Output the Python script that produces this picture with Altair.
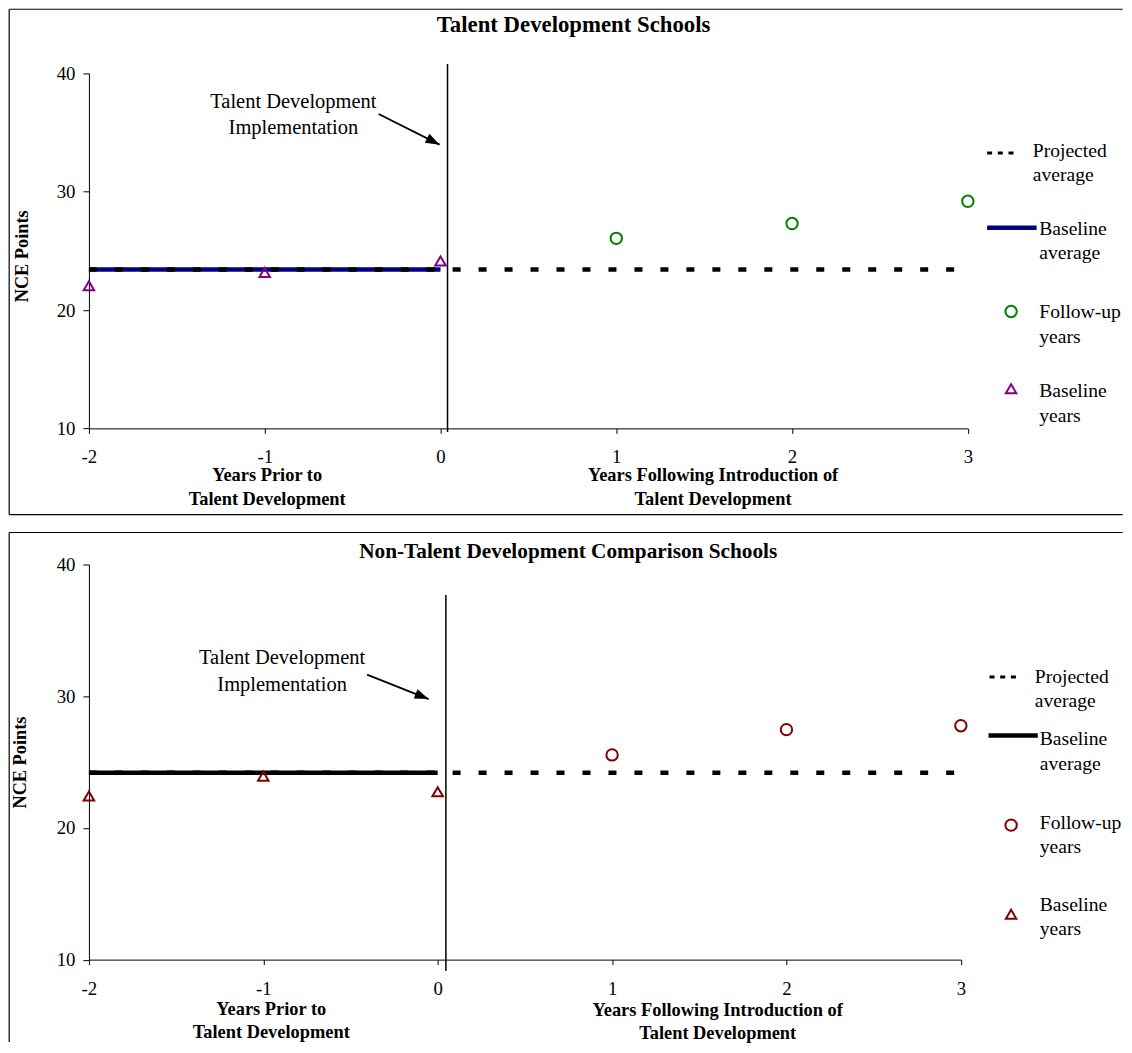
import altair as alt
import pandas as pd

FONT = "Liberation Serif"

# ---------------- data ----------------
baseline_years = [-2, -1, 0]
followup_years = [1, 2, 3]

td_baseline_scores = [22.05, 23.17, 24.14]
td_followup_scores = [26.06, 27.31, 29.19]
td_baseline_average = 23.42

cmp_baseline_scores = [22.42, 23.93, 22.74]
cmp_followup_scores = [25.54, 27.46, 27.76]
cmp_baseline_average = 24.19

x_ticks = [-2, -1, 0, 1, 2, 3]
y_ticks = [10, 20, 30, 40]

panel_titles = ["Talent Development Schools", "Non-Talent Development Comparison Schools"]
y_title = "NCE Points"
x_title_left = "Years Prior to\nTalent Development"
x_title_right = "Years Following Introduction of\nTalent Development"
annotation_text = "Talent Development\nImplementation"
legend_labels = ["Projected\naverage", "Baseline\naverage", "Follow-up\nyears", "Baseline\nyears"]

# implementation marker line: x, top, bottom (data units)
td_impl = [0.04, 40.79, 9.69]
cmp_impl = [0.047, 37.69, 9.14]
# annotation anchor (x, y) and arrow (x0, y0, x1, y1) in data units
td_note = [-0.837, 37.11]
td_arrow = [-0.352, 36.57, -0.005, 33.98]
cmp_note = [-0.892, 32.44]
cmp_arrow = [-0.405, 31.64, -0.052, 29.78]

ARROW_PATH = "M0,0 L-2,-0.72 L-2,0.72 Z"
TRI_SIZE = 110
CIRC_SIZE = 130


def vrule(x, y1, y2, sw=1.2):
    return alt.Chart().mark_rule(color="black", strokeWidth=sw).encode(
        x=alt.value(x), y=alt.value(y1), y2=alt.value(y2))


def hrule(x1, x2, y, sw=1.2):
    return alt.Chart().mark_rule(color="black", strokeWidth=sw).encode(
        x=alt.value(x1), x2=alt.value(x2), y=alt.value(y))


def make_panel(title, base_scores, follow_scores, avg, impl, note, arrow, s):
    xs = alt.Scale(domain=[-2, 3], nice=False, zero=False)
    ys = alt.Scale(domain=[10, 40], nice=False, zero=False)
    x_axis = alt.Axis(values=x_ticks, title=None, grid=False, labelFont=FONT,
                      labelFontSize=18.8, labelColor="black", tickColor="black",
                      domainColor="black", tickSize=5, labelPadding=s["xlabpad"],
                      labelExpr="'' + datum.value", labelFlush=False, labelOverlap=False)
    y_axis = alt.Axis(values=y_ticks, title=None, grid=False, labelFont=FONT,
                      labelFontSize=18.8, labelColor="black", tickColor="black",
                      domainColor="black", tickSize=6, labelPadding=8,
                      labelFlush=False, labelOverlap=False)
    X = alt.X("x:Q", scale=xs, axis=x_axis)
    Y = alt.Y("y:Q", scale=ys, axis=y_axis)

    layers = []
    # outer frame edges (right edge lies beyond the picture)
    fx1, fx2, fy1, fy2, draw_bottom = s["frame"]
    layers.append(hrule(fx1, fx2, fy1))
    layers.append(vrule(fx1, fy1, fy2))
    if draw_bottom:
        layers.append(hrule(fx1, fx2, fy2))

    # baseline average line
    base_df = pd.DataFrame({"x": [min(baseline_years), max(baseline_years)], "y": [avg, avg]})
    layers.append(alt.Chart(base_df).mark_line(color=s["avg_color"], strokeWidth=4.5)
                  .encode(x=X, y=Y))
    # projected average (dashed)
    proj_df = pd.DataFrame({"x": [min(baseline_years), max(followup_years)], "y": [avg, avg]})
    layers.append(alt.Chart(proj_df).mark_line(color="black", strokeWidth=4.5,
                                               strokeDash=[8, 18]).encode(x=X, y=Y))
    # implementation line
    impl_df = pd.DataFrame({"x": [impl[0]], "y": [impl[1]], "y2": [impl[2]]})
    layers.append(alt.Chart(impl_df).mark_rule(color="black", strokeWidth=1.5)
                  .encode(x=X, y=Y, y2="y2:Q"))
    # baseline points
    bp = pd.DataFrame({"x": baseline_years, "y": base_scores})
    layers.append(alt.Chart(bp).mark_point(shape="triangle-up", filled=False, size=TRI_SIZE,
                                           strokeWidth=2, color=s["base_color"], opacity=1)
                  .encode(x=X, y=Y))
    # follow-up points
    fp = pd.DataFrame({"x": followup_years, "y": follow_scores})
    layers.append(alt.Chart(fp).mark_point(shape="circle", filled=False, size=CIRC_SIZE,
                                           strokeWidth=2, color=s["follow_color"], opacity=1)
                  .encode(x=X, y=Y))
    # annotation arrow
    ar = pd.DataFrame({"x": [arrow[0]], "y": [arrow[1]], "x2": [arrow[2]], "y2": [arrow[3]]})
    layers.append(alt.Chart(ar).mark_rule(color="black", strokeWidth=1.8)
                  .encode(x=X, y=Y, x2="x2:Q", y2="y2:Q"))
    tip = pd.DataFrame({"x": [arrow[2]], "y": [arrow[3]]})
    layers.append(alt.Chart(tip).mark_point(shape=ARROW_PATH, filled=True, size=196,
                                            angle=s["arrow_angle"], color="black",
                                            opacity=1, strokeWidth=0)
                  .encode(x=X, y=Y))
    nt = pd.DataFrame({"x": [note[0]], "y": [note[1]], "t": [annotation_text]})
    layers.append(alt.Chart(nt).mark_text(font=FONT, fontSize=20.5, align="center",
                                          baseline="alphabetic", lineBreak="\n",
                                          lineHeight=26.5, color="black")
                  .encode(x=X, y=Y, text="t:N"))

    # panel title
    tx, ty, tsize = s["title"]
    layers.append(alt.Chart().mark_text(font=FONT, fontSize=tsize, fontWeight="bold",
                                        align="center", baseline="alphabetic", color="black")
                  .encode(x=alt.value(tx), y=alt.value(ty), text=alt.value(title)))
    # y axis title
    nx, ny = s["ytitle"]
    layers.append(alt.Chart().mark_text(font=FONT, fontSize=18.3, fontWeight="bold",
                                        align="center", baseline="middle", angle=270,
                                        color="black")
                  .encode(x=alt.value(nx), y=alt.value(ny), text=alt.value(y_title)))
    # x axis titles
    for (ax, ay), txt in zip(s["xtitles"], [x_title_left, x_title_right]):
        layers.append(alt.Chart().mark_text(font=FONT, fontSize=18.4, fontWeight="bold",
                                            align="center", baseline="alphabetic",
                                            lineBreak="\n", lineHeight=s["xlh"],
                                            color="black")
                      .encode(x=alt.value(ax), y=alt.value(ay), text=alt.value(txt)))

    # legend
    d1, d2, dy = s["leg_dash"]
    layers.append(alt.Chart().mark_rule(color="black", strokeWidth=3, strokeDash=[5, 5.7])
                  .encode(x=alt.value(d1), x2=alt.value(d2), y=alt.value(dy)))
    l1, l2, ly = s["leg_line"]
    layers.append(alt.Chart().mark_rule(color=s["avg_color"], strokeWidth=4.5)
                  .encode(x=alt.value(l1), x2=alt.value(l2), y=alt.value(ly)))
    cx, cy = s["leg_circle"]
    layers.append(alt.Chart().mark_point(shape="circle", filled=False, size=CIRC_SIZE,
                                         strokeWidth=2, color=s["follow_color"], opacity=1)
                  .encode(x=alt.value(cx), y=alt.value(cy)))
    px, py = s["leg_tri"]
    layers.append(alt.Chart().mark_point(shape="triangle-up", filled=False, size=TRI_SIZE,
                                         strokeWidth=2, color=s["base_color"], opacity=1)
                  .encode(x=alt.value(px), y=alt.value(py)))
    for (lx, ly2), lab in zip(s["leg_text"], legend_labels):
        layers.append(alt.Chart().mark_text(font=FONT, fontSize=19.6, align="left",
                                            baseline="alphabetic", lineBreak="\n",
                                            lineHeight=24.3, color="black")
                      .encode(x=alt.value(lx), y=alt.value(ly2), text=alt.value(lab)))

    return alt.layer(*layers).properties(width=s["W"], height=s["H"])


top_style = {
    "W": 879.7, "H": 355.3,
    "frame": (-79.8, 1034.7, -64.2, 441.6, True),
    "title": (485.1, -41, 22.8),
    "ytitle": (-65.8, 183.1),
    "xtitles": [(178.4, 408.3), (624.7, 408.3)],
    "xlh": 23.5,
    "xlabpad": 14,
    "avg_color": "#000080", "base_color": "#800080", "follow_color": "#008000",
    "arrow_angle": 27,
    "leg_dash": (899, 925.7, 79.6),
    "leg_line": (899, 948.5, 154.6),
    "leg_circle": (923, 238.3),
    "leg_tri": (923, 315.6),
    "leg_text": [(944.7, 83.8), (951.2, 161.8), (951.2, 245.3), (951.2, 324.3)],
}

bottom_style = {
    "W": 872.7, "H": 395.5,
    "frame": (-79.8, 1034.7, -32, 478, False),
    "title": (479.7, -6, 21.3),
    "ytitle": (-67.5, 198.3),
    "xtitles": [(182.5, 451), (629.3, 452)],
    "xlh": 22.5,
    "xlabpad": 15,
    "avg_color": "black", "base_color": "#800000", "follow_color": "#800000",
    "arrow_angle": 22,
    "leg_dash": (901.4, 928, 112.6),
    "leg_line": (900.4, 949.7, 171.3),
    "leg_circle": (923, 260.9),
    "leg_tri": (923, 350.1),
    "leg_text": [(946.7, 118.3), (951.7, 181.0), (951.7, 264.6), (951.7, 347.0)],
}

top = make_panel(panel_titles[0], td_baseline_scores, td_followup_scores,
                 td_baseline_average, td_impl, td_note, td_arrow, top_style)
bottom = make_panel(panel_titles[1], cmp_baseline_scores, cmp_followup_scores,
                    cmp_baseline_average, cmp_impl, cmp_note, cmp_arrow, bottom_style)

chart = (alt.vconcat(top, bottom, spacing=15.5)
         .properties(padding=0, background="white")
         .configure_view(stroke=None))

chart.save("out.html", embed_options={"renderer": "svg", "actions": False})
